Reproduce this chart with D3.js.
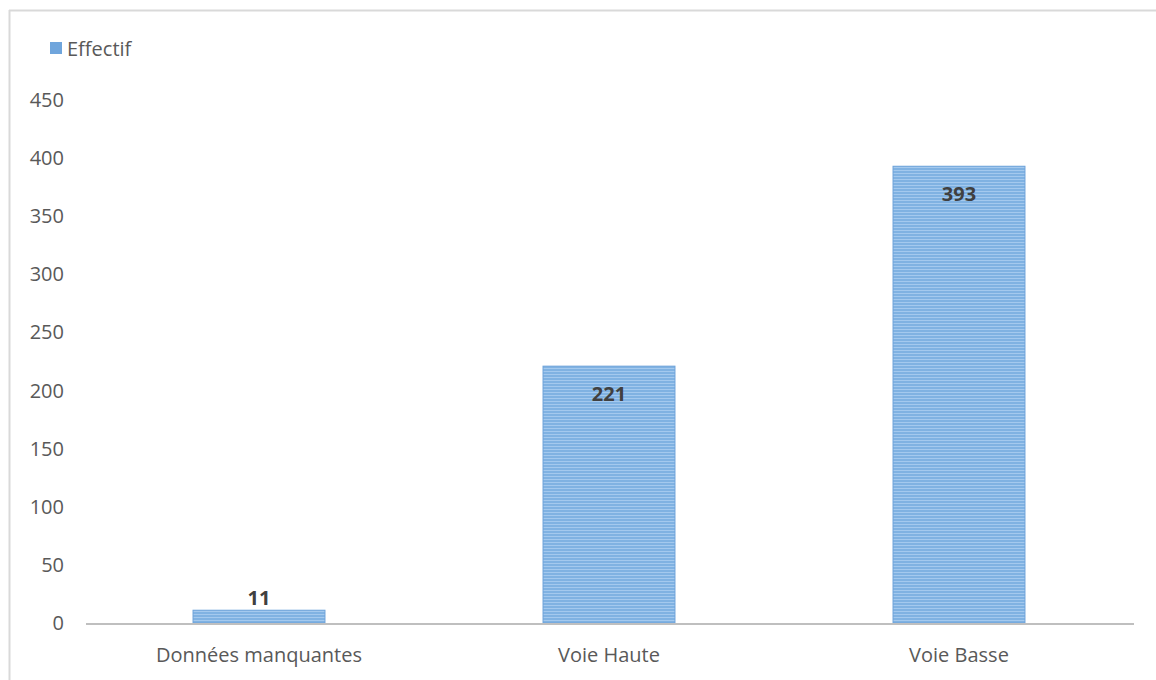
<!DOCTYPE html>
<html>
<head>
<meta charset="utf-8">
<script src="https://cdn.jsdelivr.net/npm/d3@7"></script>
<style>
  body { margin: 0; background: #fff; }
  text { font-family: "Open Sans", "Noto Sans", sans-serif; }
</style>
</head>
<body>
<div id="chart"></div>
<script>
// chart values
const categories = ["Données manquantes", "Voie Haute", "Voie Basse"];
const effectif = [11, 221, 393];
const yTicks = [0, 50, 100, 150, 200, 250, 300, 350, 400, 450];
const seriesName = "Effectif";

const BAR_COLOR = "#80b2e2";
const STRIPE_COLOR = "#a4c9ee";
const TEXT_COLOR = "#595959";

let width = 1156, height = 680;
let svg = d3.select("#chart").append("svg").attr("width", width).attr("height", height);

// outer frame (only top and left visible)
svg.append("line").attr("x1", 9).attr("x2", width).attr("y1", 10.5).attr("y2", 10.5)
    .attr("stroke", "#d9d9d9").attr("stroke-width", 2);
svg.append("line").attr("x1", 9.5).attr("x2", 9.5).attr("y1", 10).attr("y2", height)
    .attr("stroke", "#d9d9d9").attr("stroke-width", 2);

// striped fill
let defs = svg.append("defs");
let pat = defs.append("pattern").attr("id", "stripes").attr("patternUnits", "userSpaceOnUse")
    .attr("width", 8).attr("height", 3);
pat.append("rect").attr("width", 8).attr("height", 3).attr("fill", BAR_COLOR);
pat.append("rect").attr("y", 2).attr("width", 8).attr("height", 1).attr("fill", STRIPE_COLOR);

let x = d3.scaleBand().domain(categories).range([84, 1134]).paddingInner(0.623).paddingOuter(0.3115);
let y = d3.scaleLinear().domain([0, 450]).range([623, 100]);

// y tick labels
svg.append("g").selectAll("text").data(yTicks).join("text")
    .attr("x", 64).attr("y", d => y(d)).attr("dy", "0.35em")
    .attr("text-anchor", "end").attr("font-size", "20px").attr("fill", TEXT_COLOR)
    .text(d => d);

// bars
svg.append("g").selectAll("rect").data(effectif).join("rect")
    .attr("x", (d, i) => x(categories[i]))
    .attr("y", d => y(d))
    .attr("width", x.bandwidth())
    .attr("height", d => y(0) - y(d))
    .attr("fill", "url(#stripes)")
    .attr("stroke", "#6ea3da").attr("stroke-width", 1);

// x axis line
svg.append("line").attr("x1", 86).attr("x2", 1134).attr("y1", y(0) + 1).attr("y2", y(0) + 1)
    .attr("stroke", "#bfbfbf").attr("stroke-width", 2);

// category labels
svg.append("g").selectAll("text").data(categories).join("text")
    .attr("x", d => x(d) + x.bandwidth() / 2).attr("y", 662)
    .attr("text-anchor", "middle").attr("font-size", "20px").attr("fill", TEXT_COLOR)
    .text(d => d);

// data labels (inside end, or above if bar too short)
svg.append("g").selectAll("text").data(effectif).join("text")
    .attr("x", (d, i) => x(categories[i]) + x.bandwidth() / 2)
    .attr("y", d => (y(0) - y(d) < 40) ? y(d) - 5 : y(d) + 35)
    .attr("text-anchor", "middle").attr("font-size", "20px").attr("font-weight", "bold")
    .attr("fill", "#404040")
    .text(d => d);

// legend
svg.append("rect").attr("x", 50).attr("y", 42).attr("width", 12).attr("height", 12).attr("fill", "#6fa5dc");
svg.append("text").attr("x", 67).attr("y", 56).attr("font-size", "20px").attr("fill", TEXT_COLOR).text(seriesName);
</script>
</body>
</html>
